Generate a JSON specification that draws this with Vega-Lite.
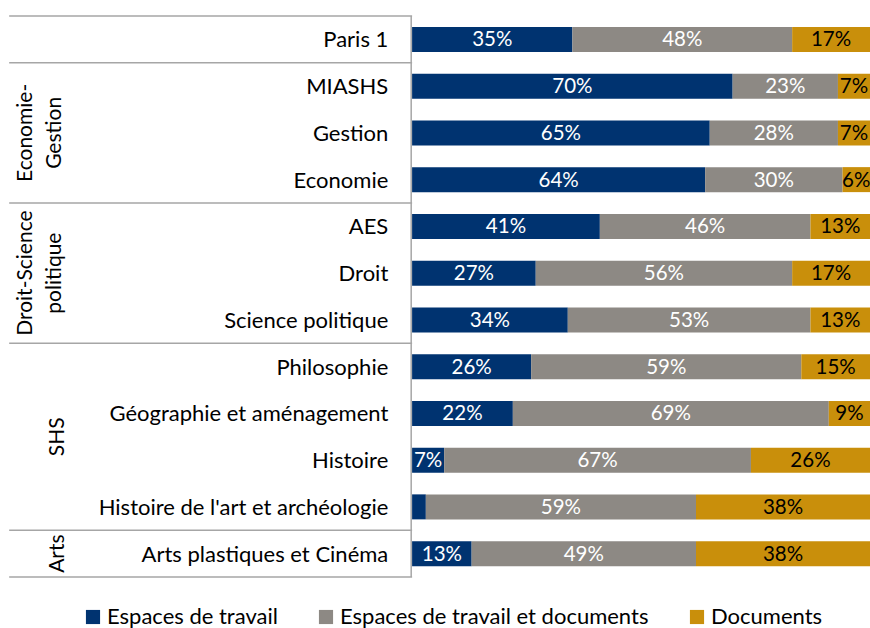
{
  "$schema": "https://vega.github.io/schema/vega-lite/v6.json",
  "width": 870,
  "height": 561,
  "padding": {"top": 15, "left": 0, "right": 0, "bottom": 0},
  "autosize": {"type": "pad"},
  "config": {"view": {"stroke": null}, "font": "Lato"},
  "datasets": {
    "values": [
      {"row": "Paris 1", "type": "Espaces de travail", "pct": 0.35},
      {"row": "Paris 1", "type": "Espaces de travail et documents", "pct": 0.48},
      {"row": "Paris 1", "type": "Documents", "pct": 0.17},
      {"row": "MIASHS", "type": "Espaces de travail", "pct": 0.70},
      {"row": "MIASHS", "type": "Espaces de travail et documents", "pct": 0.23},
      {"row": "MIASHS", "type": "Documents", "pct": 0.07},
      {"row": "Gestion", "type": "Espaces de travail", "pct": 0.65},
      {"row": "Gestion", "type": "Espaces de travail et documents", "pct": 0.28},
      {"row": "Gestion", "type": "Documents", "pct": 0.07},
      {"row": "Economie", "type": "Espaces de travail", "pct": 0.64},
      {"row": "Economie", "type": "Espaces de travail et documents", "pct": 0.30},
      {"row": "Economie", "type": "Documents", "pct": 0.06},
      {"row": "AES", "type": "Espaces de travail", "pct": 0.41},
      {"row": "AES", "type": "Espaces de travail et documents", "pct": 0.46},
      {"row": "AES", "type": "Documents", "pct": 0.13},
      {"row": "Droit", "type": "Espaces de travail", "pct": 0.27},
      {"row": "Droit", "type": "Espaces de travail et documents", "pct": 0.56},
      {"row": "Droit", "type": "Documents", "pct": 0.17},
      {"row": "Science politique", "type": "Espaces de travail", "pct": 0.34},
      {"row": "Science politique", "type": "Espaces de travail et documents", "pct": 0.53},
      {"row": "Science politique", "type": "Documents", "pct": 0.13},
      {"row": "Philosophie", "type": "Espaces de travail", "pct": 0.26},
      {"row": "Philosophie", "type": "Espaces de travail et documents", "pct": 0.59},
      {"row": "Philosophie", "type": "Documents", "pct": 0.15},
      {"row": "Géographie et aménagement", "type": "Espaces de travail", "pct": 0.22},
      {"row": "Géographie et aménagement", "type": "Espaces de travail et documents", "pct": 0.69},
      {"row": "Géographie et aménagement", "type": "Documents", "pct": 0.09},
      {"row": "Histoire", "type": "Espaces de travail", "pct": 0.07},
      {"row": "Histoire", "type": "Espaces de travail et documents", "pct": 0.67},
      {"row": "Histoire", "type": "Documents", "pct": 0.26},
      {"row": "Histoire de l'art et archéologie", "type": "Espaces de travail", "pct": 0.03},
      {"row": "Histoire de l'art et archéologie", "type": "Espaces de travail et documents", "pct": 0.59},
      {"row": "Histoire de l'art et archéologie", "type": "Documents", "pct": 0.38},
      {"row": "Arts plastiques et Cinéma", "type": "Espaces de travail", "pct": 0.13},
      {"row": "Arts plastiques et Cinéma", "type": "Espaces de travail et documents", "pct": 0.49},
      {"row": "Arts plastiques et Cinéma", "type": "Documents", "pct": 0.38}
    ],
    "rows": [
      {"row": "Paris 1"}, {"row": "MIASHS"}, {"row": "Gestion"}, {"row": "Economie"},
      {"row": "AES"}, {"row": "Droit"}, {"row": "Science politique"}, {"row": "Philosophie"},
      {"row": "Géographie et aménagement"}, {"row": "Histoire"},
      {"row": "Histoire de l'art et archéologie"}, {"row": "Arts plastiques et Cinéma"}
    ],
    "groupsTwo": [
      {"row": "Gestion", "label": "Economie-\nGestion"},
      {"row": "Droit", "label": "Droit-Science\npolitique"}
    ],
    "groupsOne": [
      {"row": "Arts plastiques et Cinéma", "label": "Arts"}
    ],
    "groupsEdge": [
      {"row": "Histoire", "label": "SHS"}
    ],
    "bounds": [
      {"row": "Paris 1"}, {"row": "MIASHS"}, {"row": "AES"}, {"row": "Philosophie"}, {"row": "Arts plastiques et Cinéma"}
    ],
    "bottom": [
      {"row": "Arts plastiques et Cinéma"}
    ]
  },
  "layer": [
    {
      "data": {"name": "values"},
      "transform": [{"calculate": "indexof(['Espaces de travail','Espaces de travail et documents','Documents'], datum.type)", "as": "ord"}],
      "mark": {"type": "bar", "size": 25},
      "encoding": {
        "y": {"field": "row", "type": "nominal", "axis": null,
              "scale": {"domain": ["Paris 1", "MIASHS", "Gestion", "Economie", "AES", "Droit", "Science politique", "Philosophie", "Géographie et aménagement", "Histoire", "Histoire de l'art et archéologie", "Arts plastiques et Cinéma"], "paddingInner": 0, "paddingOuter": 0}},
        "x": {"field": "pct", "type": "quantitative", "stack": "zero", "axis": null,
              "scale": {"domain": [-0.9, 1], "nice": false, "zero": false}},
        "color": {"field": "type", "type": "nominal",
                  "scale": {"domain": ["Espaces de travail", "Espaces de travail et documents", "Documents"], "range": ["#003370", "#8D8984", "#C98F0B"]},
                  "legend": {"orient": "none", "direction": "horizontal", "legendX": 82, "legendY": 590, "title": null,
                             "symbolType": "square", "symbolSize": 200, "symbolStrokeWidth": 0, "labelFont": "Lato", "labelFontSize": 22,
                             "labelColor": "#000000", "labelLimit": 0, "columnPadding": 37, "labelOffset": 3}},
        "order": {"field": "ord"}
      }
    },
    {
      "data": {"name": "values"},
      "transform": [{"calculate": "indexof(['Espaces de travail','Espaces de travail et documents','Documents'], datum.type)", "as": "ord"}],
      "mark": {"type": "text", "font": "Lato", "fontSize": 20.5, "align": "center", "baseline": "middle", "dy": 1},
      "encoding": {
        "y": {"field": "row", "type": "nominal"},
        "x": {"field": "pct", "type": "quantitative", "stack": "zero", "bandPosition": 0.5},
        "detail": {"field": "type"},
        "order": {"field": "ord"},
        "text": {"condition": {"test": "datum.pct < 0.05", "value": ""}, "field": "pct", "type": "quantitative", "format": ".0%"},
        "color": {"condition": {"test": "datum.type === 'Documents'", "value": "#000000"}, "value": "#ffffff"}
      }
    },
    {
      "data": {"name": "rows"},
      "mark": {"type": "text", "font": "Lato", "fontSize": 22, "align": "right", "baseline": "middle", "color": "#000000", "dy": 1},
      "encoding": {
        "y": {"field": "row", "type": "nominal"},
        "x": {"datum": -0.052, "type": "quantitative"},
        "text": {"field": "row"}
      }
    },
    {
      "data": {"name": "groupsTwo"},
      "mark": {"type": "text", "font": "Lato", "fontSize": 21, "align": "center", "baseline": "bottom", "angle": 270, "lineBreak": "\n", "lineHeight": 29, "color": "#000000"},
      "encoding": {
        "y": {"field": "row", "type": "nominal"},
        "x": {"datum": -0.822, "type": "quantitative"},
        "text": {"field": "label"}
      }
    },
    {
      "data": {"name": "groupsOne"},
      "mark": {"type": "text", "font": "Lato", "fontSize": 21, "align": "center", "baseline": "bottom", "angle": 270, "color": "#000000"},
      "encoding": {
        "y": {"field": "row", "type": "nominal"},
        "x": {"datum": -0.752, "type": "quantitative"},
        "text": {"field": "label"}
      }
    },
    {
      "data": {"name": "groupsEdge"},
      "mark": {"type": "text", "font": "Lato", "fontSize": 21, "align": "center", "baseline": "bottom", "angle": 270, "color": "#000000"},
      "encoding": {
        "y": {"field": "row", "type": "nominal", "bandPosition": 0},
        "x": {"datum": -0.752, "type": "quantitative"},
        "text": {"field": "label"}
      }
    },
    {
      "data": {"name": "bounds"},
      "mark": {"type": "rule", "color": "#A6A6A6", "strokeWidth": 1.5},
      "encoding": {
        "y": {"field": "row", "type": "nominal", "bandPosition": 0},
        "x": {"datum": -0.88, "type": "quantitative"},
        "x2": {"datum": 0}
      }
    },
    {
      "data": {"name": "bottom"},
      "mark": {"type": "rule", "color": "#A6A6A6", "strokeWidth": 1.5},
      "encoding": {
        "y": {"field": "row", "type": "nominal", "bandPosition": 1},
        "x": {"datum": -0.88, "type": "quantitative"},
        "x2": {"datum": 0}
      }
    },
    {
      "data": {"values": [{}]},
      "mark": {"type": "rule", "color": "#A6A6A6", "strokeWidth": 1.5},
      "encoding": {
        "x": {"datum": -0.002, "type": "quantitative"}
      }
    }
  ]
}
